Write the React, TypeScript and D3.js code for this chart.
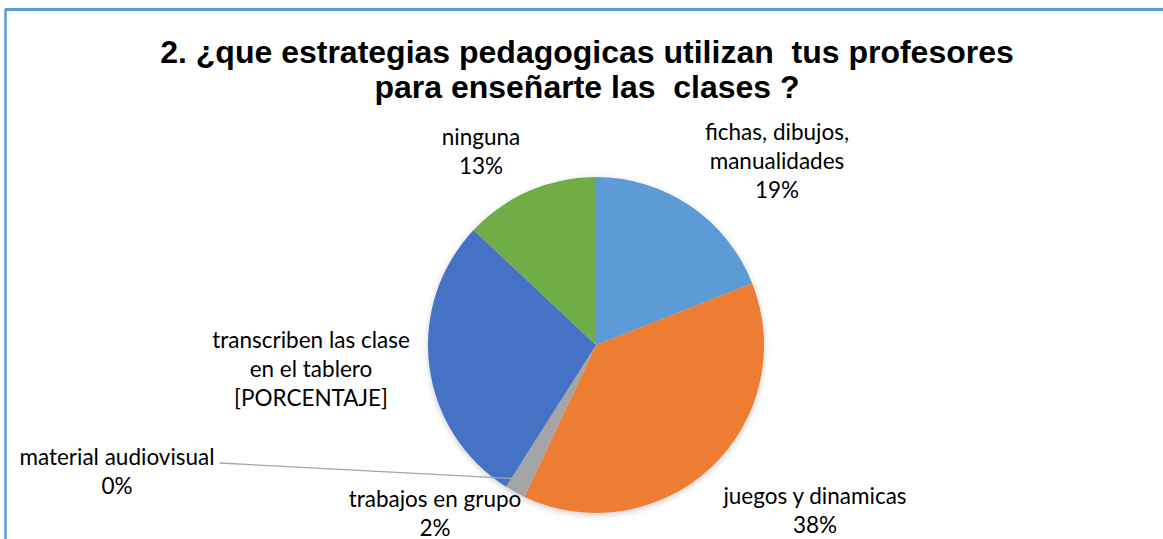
import React, { useRef, useEffect } from "react";
import * as d3 from "d3";

const categories = [
    "fichas, dibujos, manualidades",
    "juegos y dinamicas",
    "trabajos en grupo",
    "material audiovisual",
    "transcriben las clase en el tablero",
    "ninguna",
];
const values = [19, 38, 2, 0, 28, 13];
const percentLabels = ["19%", "38%", "2%", "0%", "[PORCENTAJE]", "13%"];
const labelLines = [
    ["fichas, dibujos,", "manualidades"],
    ["juegos y dinamicas"],
    ["trabajos en grupo"],
    ["material audiovisual"],
    ["transcriben las clase", "en el tablero"],
    ["ninguna"],
];
const titleLines = [
    "2. ¿que estrategias pedagogicas utilizan  tus profesores",
    "para enseñarte las  clases ?",
];

const colors = ["#5B9BD5", "#ED7D31", "#A5A5A5", "#FFC000", "#4472C4", "#70AD47"];

// where Excel put each data label (center x, first baseline)
const labelLayout = [
    { x: 777, y: 140 },
    { x: 815, y: 504 },
    { x: 435, y: 507 },
    { x: 117, y: 465 },
    { x: 311, y: 348 },
    { x: 481, y: 145 },
];

const PieChart = () => {
    const svgRef = useRef(null);

    useEffect(() => {
        const width = 1163;
        const height = 539;
        const cx = 596;
        const cy = 345;
        const radius = 168;
        const lineH = 29;

        const svg = d3.select(svgRef.current);
        svg.selectAll("*").remove();
        svg.attr("width", width).attr("height", height);

        svg.append("rect").attr("width", width).attr("height", height).attr("fill", "#fff");

        // chart border (only top and left are visible)
        svg.append("line")
            .attr("x1", 5).attr("y1", 9.5).attr("x2", width).attr("y2", 9.5)
            .attr("stroke", "#5B9BD5").attr("stroke-width", 3);
        svg.append("line")
            .attr("x1", 5.5).attr("y1", 9).attr("x2", 5.5).attr("y2", height)
            .attr("stroke", "#5B9BD5").attr("stroke-width", 2.5);

        const title = svg.append("text")
            .attr("text-anchor", "middle")
            .attr("font-family", "'Liberation Sans', Arial, sans-serif")
            .attr("font-weight", "bold")
            .attr("font-size", 32)
            .attr("fill", "#000")
            .style("white-space", "pre");
        titleLines.forEach((t, i) => {
            title.append("tspan").attr("x", 587).attr("y", 63 + i * 35).text(t);
        });

        const defs = svg.append("defs");
        const filter = defs.append("filter").attr("id", "pieShadow")
            .attr("x", "-20%").attr("y", "-20%").attr("width", "140%").attr("height", "140%");
        filter.append("feDropShadow")
            .attr("dx", 0).attr("dy", 2).attr("stdDeviation", 3)
            .attr("flood-color", "#000").attr("flood-opacity", 0.2);

        const pie = d3.pie().value((d) => d).sort(null);
        const arcs = pie(values);
        const arc = d3.arc().innerRadius(0).outerRadius(radius);

        const g = svg.append("g")
            .attr("transform", `translate(${cx}, ${cy})`)
            .attr("filter", "url(#pieShadow)");

        g.selectAll("path")
            .data(arcs)
            .enter()
            .append("path")
            .attr("d", arc)
            .attr("fill", (d, i) => colors[i]);

        const labelNodes = [];
        categories.forEach((c, i) => {
            const pos = labelLayout[i];
            const lines = [...labelLines[i], percentLabels[i]];
            const t = svg.append("text")
                .attr("text-anchor", "middle")
                .attr("font-family", "Lato, 'Open Sans', sans-serif")
                .attr("font-size", 22.5)
                .attr("fill", "#000");
            lines.forEach((l, j) => {
                t.append("tspan").attr("x", pos.x).attr("y", pos.y + j * lineH).text(l);
            });
            labelNodes.push(t);
        });

        // leader line for the empty slice
        const zeroIdx = values.indexOf(0);
        const zeroArc = arcs[zeroIdx];
        const pointArc = d3.arc().innerRadius(radius - 10).outerRadius(radius - 10);
        const [px, py] = pointArc.centroid(zeroArc);
        const lab = labelLayout[zeroIdx];
        const firstLine = labelNodes[zeroIdx].select("tspan").node();
        const halfW = firstLine ? firstLine.getComputedTextLength() / 2 : 98;
        svg.append("line")
            .attr("x1", lab.x + halfW + 5).attr("y1", lab.y - 2)
            .attr("x2", cx + px).attr("y2", cy + py)
            .attr("stroke", "#A6A6A6").attr("stroke-width", 1.3);
    }, []);

    return (
        <div style={{ position: "absolute", top: 0, left: 0 }}>
            <svg ref={svgRef} style={{ display: "block" }}></svg>
        </div>
    );
};

export default function App() {
    return <PieChart />;
}
